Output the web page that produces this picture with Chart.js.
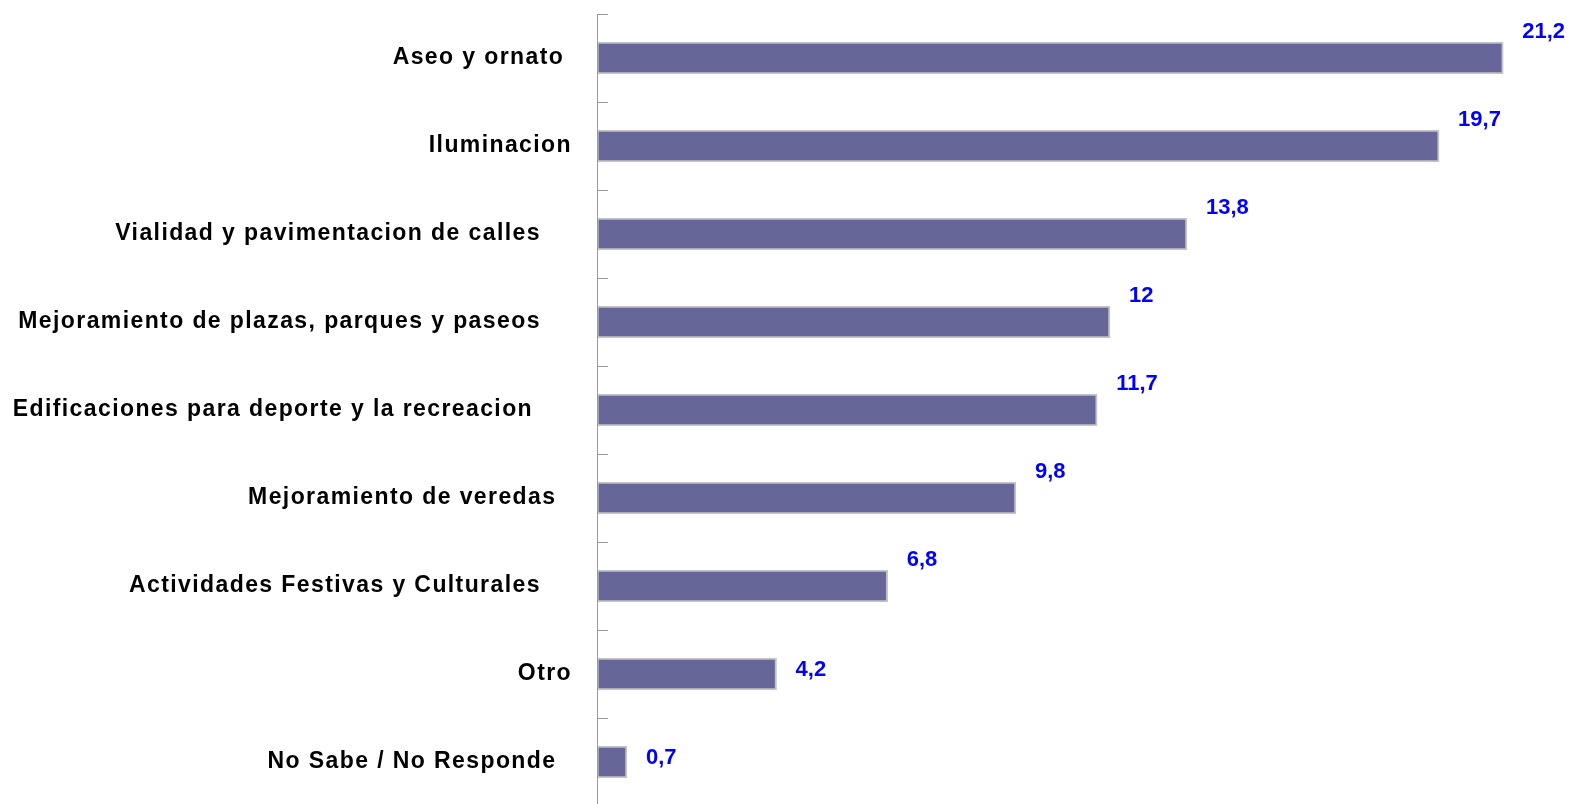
<!DOCTYPE html>
<html>
<head>
<meta charset="utf-8">
<script src="https://cdn.jsdelivr.net/npm/chart.js@4"></script>
<style>
  html, body { margin: 0; padding: 0; background: #fff; overflow: hidden; }
  #wrap { width: 1593px; height: 804px; overflow: hidden; }
</style>
</head>
<body>
<div id="wrap">
  <canvas id="graficoPrioridades" width="1593" height="806"></canvas>
</div>
<script>
// categorias (con los espacios finales del original)
const categorias = [
  "Aseo y ornato ",
  "Iluminacion",
  "Vialidad y pavimentacion de calles    ",
  "Mejoramiento de plazas, parques y paseos    ",
  "Edificaciones para deporte y la recreacion     ",
  "Mejoramiento de veredas  ",
  "Actividades Festivas y Culturales    ",
  "Otro",
  "No Sabe / No Responde  "
];
const porcentajes = [21.2, 19.7, 13.8, 12, 11.7, 9.8, 6.8, 4.2, 0.7];
const ejeMax = 23.3;

// eje vertical con marcas hacia dentro + etiquetas azules
const ejeYEtiquetas = {
  id: "ejeYEtiquetas",
  beforeDraw(chart) {
    chart.ctx.letterSpacing = "1.4px";
  },
  afterDatasetsDraw(chart) {
    const { ctx, chartArea } = chart;
    const n = categorias.length;
    const paso = (chartArea.bottom - chartArea.top) / n;
    ctx.save();
    ctx.strokeStyle = "#9a9a9a";
    ctx.lineWidth = 1;
    ctx.beginPath();
    ctx.moveTo(chartArea.left + 0.5, chartArea.top);
    ctx.lineTo(chartArea.left + 0.5, chartArea.bottom);
    for (let i = 0; i < n; i++) {
      const y = Math.round(chartArea.top + i * paso) + 0.5;
      ctx.moveTo(chartArea.left, y);
      ctx.lineTo(chartArea.left + 11, y);
    }
    ctx.stroke();

    ctx.letterSpacing = "0px";
    ctx.font = "bold 22px 'Liberation Sans', Arial, sans-serif";
    ctx.fillStyle = "#0000ff";
    ctx.textAlign = "left";
    ctx.textBaseline = "middle";
    chart.getDatasetMeta(0).data.forEach((bar, i) => {
      const v = porcentajes[i];
      const subir = v < 5 ? 4 : 26;
      ctx.fillText(String(v).replace(".", ","), bar.x + 19, bar.y - subir);
    });
    ctx.restore();
  }
};

new Chart(document.getElementById("graficoPrioridades"), {
  type: "bar",
  data: {
    labels: categorias,
    datasets: [{
      data: porcentajes,
      backgroundColor: "#666699",
      borderColor: "#c4c4c4",
      borderWidth: 2,
      borderSkipped: false,
      barThickness: 32
    }]
  },
  options: {
    indexAxis: "y",
    responsive: false,
    animation: false,
    events: [],
    layout: { padding: { top: 14, right: 0, bottom: 0, left: 0 } },
    plugins: {
      legend: { display: false },
      tooltip: { enabled: false }
    },
    scales: {
      x: {
        display: false,
        min: 0,
        max: ejeMax
      },
      y: {
        afterFit(scale) {
          scale.width = 597;
          scale.paddingTop = 0;
          scale.paddingBottom = 0;
        },
        grid: { display: false, drawTicks: false },
        border: { display: false },
        ticks: {
          padding: 25,
          color: "#000",
          font: { family: "'Liberation Sans', Arial, sans-serif", size: 23, weight: "bold" }
        }
      }
    }
  },
  plugins: [ejeYEtiquetas]
});
</script>
</body>
</html>
